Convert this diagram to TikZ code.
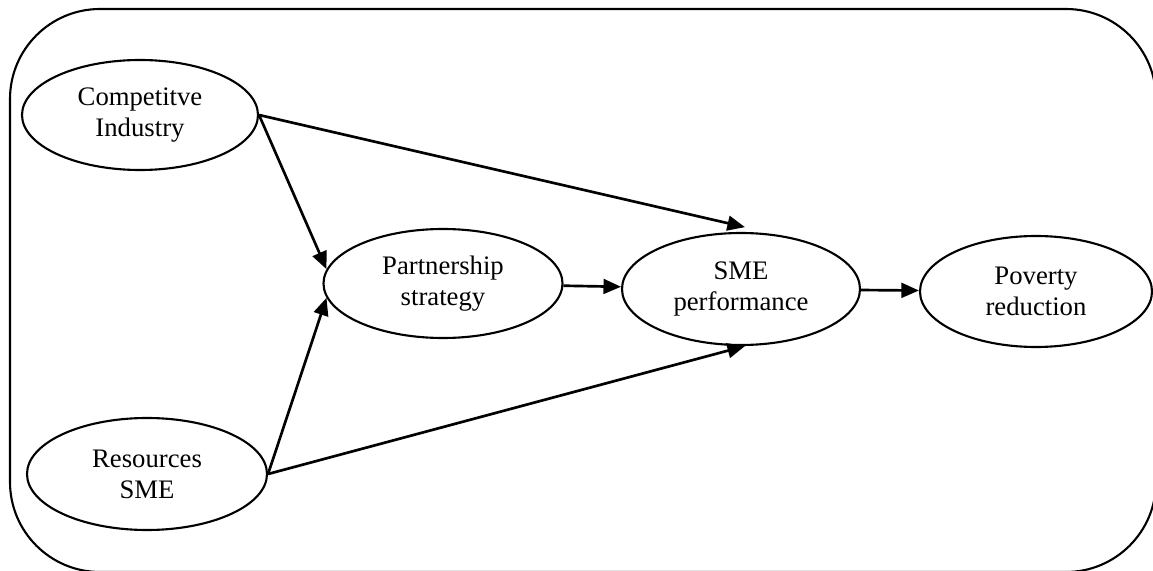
\documentclass[tikz,border=0pt]{standalone}
\usepackage{fontspec}
\setmainfont{Liberation Serif}
\usetikzlibrary{shapes.geometric,arrows.meta}
\tikzset{
% Two styles for the model: factor ellipses and causal arrows
factor node/.style={ellipse,draw,line width=1.5pt,inner sep=0,align=center,font=\fontsize{19}{22}\selectfont},
causal/.style={line width=1.9pt,-{Triangle[length=12.5pt,width=10.5pt]}}
}
\begin{document}
\begin{tikzpicture}
\useasboundingbox (0,0) rectangle (28.825,14.25);
\clip (0,0) rectangle (28.825,14.25);
\draw[line width=1.5pt,rounded corners=2.25cm] (0.25,-0.05) rectangle (28.9,14.025);

\node[factor node,minimum width=5.9cm,minimum height=2.75cm] (CI) at (3.5,11.375) {Competitve\\Industry};
\node[factor node,minimum width=6cm,minimum height=2.8cm] (RS) at (3.675,2.4) {Resources\\SME};
\node[factor node,minimum width=5.975cm,minimum height=2.725cm] (PS) at (11.075,7.1625) {Partnership\\strategy};
\node[factor node,minimum width=5.95cm,minimum height=2.8cm] (SP) at (18.525,7.025) {SME\\performance};
\node[factor node,minimum width=5.8cm,minimum height=2.775cm] (PR) at (25.9,6.9625) {Poverty\\reduction};

\path [causal] (CI.east) edge (PS.173);
\path [causal] (RS.east) edge (PS.187);
\path [causal] (CI.east) edge ([shift={(0.1,0.12)}]SP.north);
\path [causal] (RS.east) edge ([xshift=0.1cm]SP.south);
\path [causal] (PS) edge (SP);
\path [causal] (SP) edge (PR);
\end{tikzpicture}
\end{document}
